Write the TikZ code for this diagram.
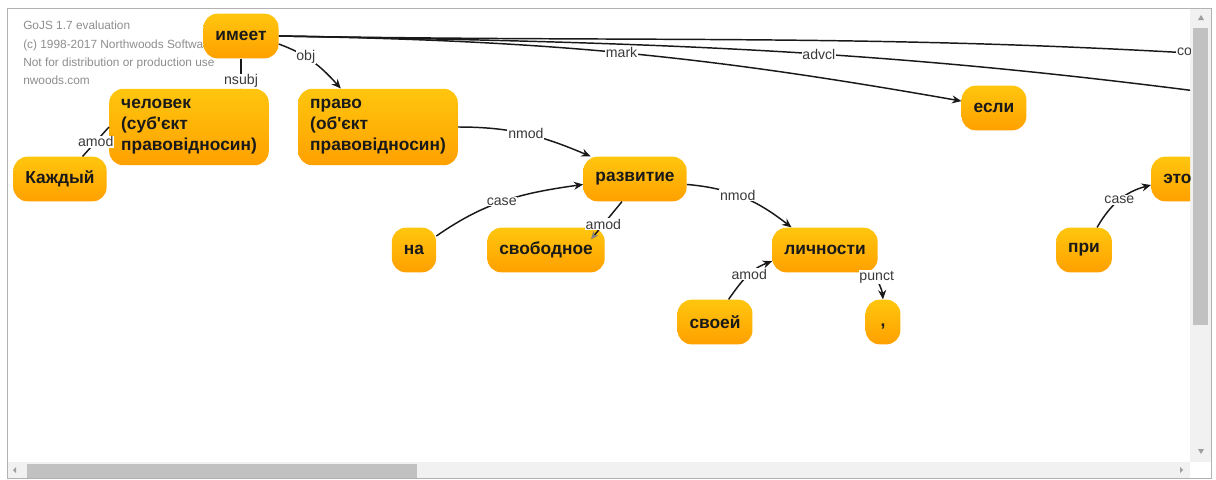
\documentclass[tikz,border=0pt]{standalone}
\usepackage{fontspec}
\setmainfont{Liberation Sans}
\usetikzlibrary{arrows.meta}
\definecolor{wtop}{HTML}{FFC60E}
\definecolor{wbot}{HTML}{FFA000}
\definecolor{lbl}{HTML}{3A3A3A}
\definecolor{wmark}{HTML}{8E8E8E}
\definecolor{sbar}{HTML}{F1F1F1}
\definecolor{thumb}{HTML}{C1C1C1}

\begin{document}
\begin{tikzpicture}[x=0.75pt,y=-0.75pt,
  word/.style={rounded corners=10.5pt,top color=wtop,bottom color=wbot,text=black!90,
    inner xsep=9pt,inner ysep=8pt,minimum height=33.5pt,minimum width=26pt,align=left,
    font=\fontsize{13}{15.8}\selectfont\bfseries},
  dep/.style={-{Stealth[length=7pt,width=6pt]},line width=1.1pt,black!90},
  rel/.style={fill=white,inner sep=0.6pt,text=lbl,font=\fontsize{10.6}{12}\selectfont},
  wm/.style={anchor=west,inner sep=0pt,text=wmark,font=\fontsize{8.9}{10}\selectfont},
  sarrow/.style={fill=gray!75}]
\useasboundingbox (0,0) rectangle (1216,479);
\fill[white] (0,0) rectangle (1216,479);
% scroll bars
\fill[sbar] (1190,8) rectangle (1211,462);
\fill[thumb] (1193,28) rectangle (1208,325);
\fill[sarrow] (1198,20) -- (1204,20) -- (1201,15) -- cycle;
\fill[sarrow] (1198,449) -- (1204,449) -- (1201,454) -- cycle;
\fill[sbar] (7,462) rectangle (1190,478);
\fill[thumb] (27,464) rectangle (417,478);
\fill[sarrow] (16,467) -- (16,473) -- (13,470) -- cycle;
\fill[sarrow] (1180,467) -- (1180,473) -- (1183,470) -- cycle;
\draw[gray!60,line width=0.6pt] (7,8) rectangle (1211,478);
\begin{scope}
\clip (8,9) rectangle (1190,461);
% evaluation text
\node(wm1) at (23,25)[wm] {GoJS 1.7 evaluation};
\node(wm2) at (23,45)[wm] {(c) 1998-2017 Northwoods Software};
\node(wm3) at (23,63)[wm] {Not for distribution or production use};
\node(wm4) at (23,80)[wm] {nwoods.com};
% words
\node(0) at (241,36)[word] {имеет};
\node(1) at (189,127)[word] {человек\\(суб\textquotesingle єкт\\правовідносин)};
\node(2) at (60,179)[word] {Каждый};
\node(3) at (378,127)[word] {право\\(об\textquotesingle єкт\\правовідносин)};
\node(4) at (994,108)[word] {если};
\node(5) at (635,179)[word] {развитие};
\node(6) at (414,250)[word] {на};
\node(7) at (546,250)[word] {свободное};
\node(8) at (825,250)[word] {личности};
\node(9) at (715,322)[word] {своей};
\node(10) at (883,322)[word] {\strut,};
\node(11) at (1084,250)[word] {при};
\node(12) at (1151,179)[word,anchor=west] {это};
\coordinate (c1) at (1300,60);
\coordinate (c2) at (1300,105);
% links
\draw[dep,-{Stealth[length=6pt,width=5pt,color=gray]}] (0.south) -- node[rel,pos=0.75]{nsubj} (0.south |- 1.north);
\draw[line width=1.1pt,black!90] (1.west) -- node[rel,midway]{amod} (2.45);
\draw[dep] (0.-12) to[out=-20,in=132] node[rel,pos=0.38]{obj} (3.134);
\draw[dep] (0.east) to[out=-1,in=170] node[rel,pos=0.5]{mark} (4.168);
\draw[line width=1.1pt,black!90] (0.east) to[out=-1,in=172] node[rel,pos=0.53]{advcl} (c2);
\draw[line width=1.1pt,black!90] (0.east) to[out=-1,in=176] (c1);
\node(l1) at (1176,52)[rel,anchor=west] {conj};
\draw[dep] (3.east) to[out=0,in=157] node[rel,pos=0.5]{nmod} (5.153);
\draw[dep] (6.32) to[out=35,in=188] node[rel,pos=0.47]{case} (5.186);
\draw[dep,-{Stealth[length=6pt,width=5pt,color=gray]}] (5.240) -- node[rel,pos=0.6]{amod} ([xshift=-10.5pt,yshift=-9pt]7.north east);
\draw[dep] (5.-6) to[out=-5,in=142] node[rel,pos=0.45]{nmod} (8.146);
\draw[dep] (9.59) to[out=55,in=200] node[rel,pos=0.55]{amod} (8.192);
\draw[dep] (8.-24) to[out=-80,in=95] node[rel,pos=0.15]{punct} (10.north);
\draw[dep] (11.60) to[out=60,in=195] node[rel,pos=0.5]{case} ([yshift=-4.5pt]12.west);
\end{scope}
\end{tikzpicture}
\end{document}
